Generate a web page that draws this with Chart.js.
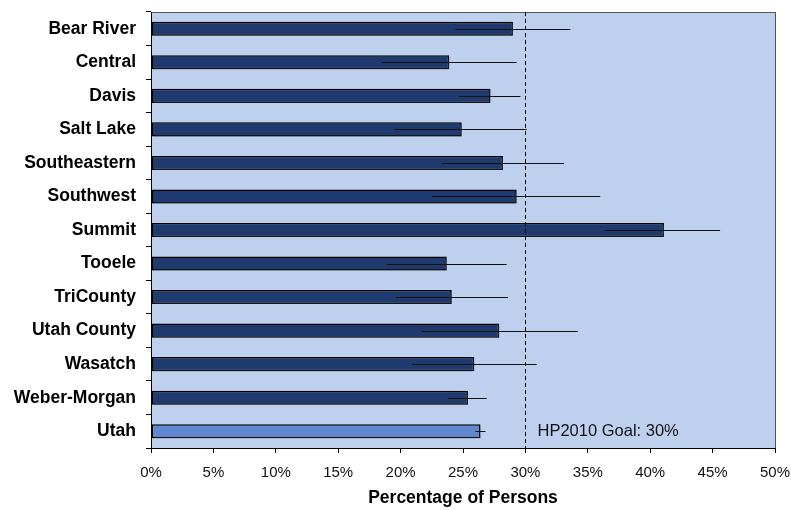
<!DOCTYPE html>
<html>
<head>
<meta charset="utf-8">
<script src="https://cdn.jsdelivr.net/npm/chart.js@4"></script>
<style>
  html, body { margin: 0; padding: 0; background: #fff; }
  #wrap { width: 791px; height: 510px; position: relative; }
</style>
</head>
<body>
<div id="wrap"><canvas id="chart"></canvas></div>
<script>
        // Data
        const districts = ["Bear River", "Central", "Davis", "Salt Lake", "Southeastern", "Southwest", "Summit",
                           "Tooele", "TriCounty", "Utah County", "Wasatch", "Weber-Morgan", "Utah"];
        const percentValues = [29.0, 23.9, 27.2, 24.9, 28.2, 29.3, 41.1, 23.7, 24.1, 27.9, 25.9, 25.4, 26.4];
        const lowerCI = [24.4, 18.5, 24.7, 19.5, 23.3, 22.5, 36.4, 18.9, 19.6, 21.7, 20.9, 23.8, 26.0];
        const upperCI = [33.6, 29.3, 29.6, 30.1, 33.1, 36.0, 45.6, 28.5, 28.6, 34.2, 30.9, 26.9, 26.8];
        const goalValue = 30;
        const goalLabel = "HP2010 Goal: 30%";

        const barColors = districts.map(d => d === "Utah" ? '#6088D0' : '#1F3A6E');
        const FONT = '"Liberation Sans", Arial, sans-serif';

        // Plot background + frame
        const plotBackground = {
            id: 'plotBackground',
            beforeDraw(chart) {
                const { ctx, chartArea: a } = chart;
                ctx.save();
                ctx.fillStyle = '#BDD0EE';
                ctx.fillRect(a.left, a.top, a.right - a.left, a.bottom - a.top);
                ctx.strokeStyle = '#555';
                ctx.lineWidth = 1;
                ctx.strokeRect(a.left + 0.5, a.top + 0.5, a.right - a.left, a.bottom - a.top);
                ctx.restore();
            },
            // soft grey shadow behind bars, like the original
            beforeDatasetsDraw(chart) {
                const ctx = chart.ctx;
                ctx.save();
                ctx.shadowColor = 'rgba(60,60,60,0.35)';
                ctx.shadowOffsetX = 1.5;
                ctx.shadowOffsetY = 1.5;
                ctx.shadowBlur = 0;
            },
            afterDatasetsDraw(chart) {
                chart.ctx.restore();
            }
        };

        // Error bars, goal line and its label
        const extras = {
            id: 'extras',
            afterDatasetsDraw(chart) {
                const { ctx, chartArea: a } = chart;
                const xs = chart.scales.x;
                const ys = chart.scales.y;
                ctx.save();

                // goal line
                const gx = Math.round(xs.getPixelForValue(goalValue)) + 0.5;
                ctx.strokeStyle = '#000';
                ctx.lineWidth = 1;
                ctx.setLineDash([4, 3]);
                ctx.beginPath();
                ctx.moveTo(gx, a.top);
                ctx.lineTo(gx, a.bottom);
                ctx.stroke();
                ctx.setLineDash([]);

                // error bars
                ctx.strokeStyle = '#111';
                ctx.lineWidth = 1;
                districts.forEach((d, i) => {
                    const y = Math.round(ys.getPixelForValue(i)) + 0.5;
                    ctx.beginPath();
                    ctx.moveTo(xs.getPixelForValue(lowerCI[i]), y);
                    ctx.lineTo(xs.getPixelForValue(upperCI[i]), y);
                    ctx.stroke();
                });

                // goal label
                ctx.fillStyle = '#111';
                ctx.font = '16.5px ' + FONT;
                ctx.textAlign = 'left';
                ctx.textBaseline = 'middle';
                ctx.fillText(goalLabel, gx + 12, ys.getPixelForValue(districts.length - 1));
                ctx.restore();
            }
        };

        new Chart(document.getElementById('chart'), {
            type: 'bar',
            data: {
                labels: districts,
                datasets: [{
                    data: percentValues,
                    backgroundColor: barColors,
                    borderColor: '#000',
                    borderWidth: 1.5,
                    borderSkipped: false,
                    barPercentage: 0.42,
                    categoryPercentage: 1.0
                }]
            },
            options: {
                indexAxis: 'y',
                responsive: true,
                maintainAspectRatio: false,
                animation: false,
                layout: { padding: { left: 0, right: 16, top: 12, bottom: 0 } },
                plugins: {
                    legend: { display: false },
                    tooltip: { enabled: false }
                },
                scales: {
                    x: {
                        min: 0,
                        max: 50,
                        ticks: {
                            stepSize: 5,
                            color: '#111',
                            padding: 11,
                            maxRotation: 0,
                            font: { family: FONT, size: 15 },
                            callback: v => v + '%'
                        },
                        grid: { drawOnChartArea: false, drawTicks: true, tickLength: 5, color: '#000' },
                        border: { display: true, color: '#000' },
                        title: {
                            display: true,
                            text: 'Percentage of Persons',
                            color: '#000',
                            padding: { top: 2, bottom: 1 },
                            font: { family: FONT, size: 17.5, weight: 'bold' }
                        },
                        afterFit(scale) {
                            scale.height = 62;
                            scale.paddingLeft = 0;
                            scale.paddingRight = 0;
                        }
                    },
                    y: {
                        ticks: {
                            color: '#000',
                            padding: 10,
                            font: { family: FONT, size: 17.5, weight: 'bold' }
                        },
                        grid: { drawOnChartArea: false, drawTicks: true, tickLength: 5, color: '#000', offset: true },
                        border: { display: true, color: '#000' },
                        afterFit(scale) {
                            scale.width = 151;
                            scale.paddingTop = 0;
                            scale.paddingBottom = 0;
                        }
                    }
                }
            },
            plugins: [plotBackground, extras]
        });
</script>
</body>
</html>
